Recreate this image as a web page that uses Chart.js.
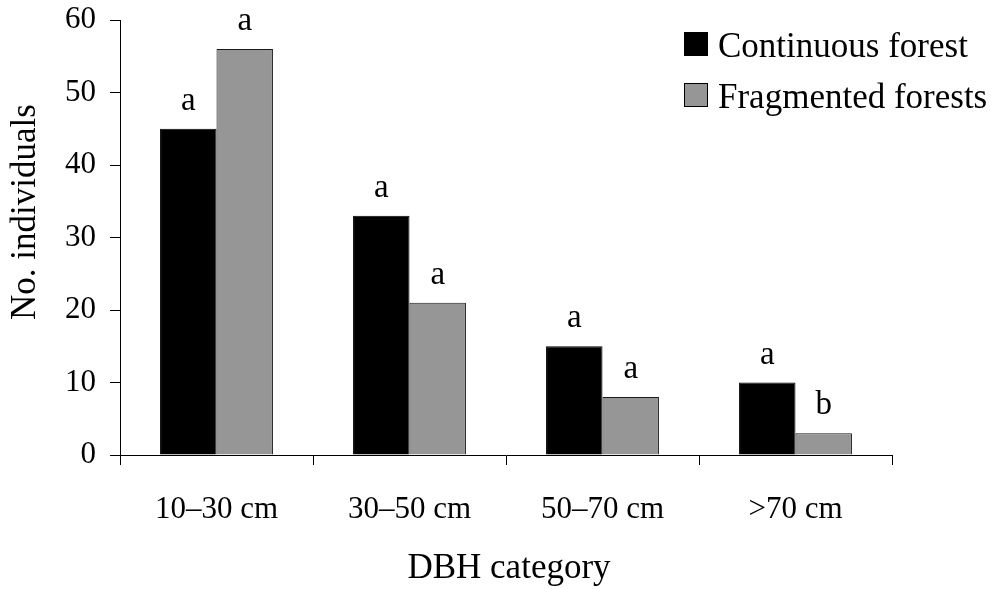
<!DOCTYPE html>
<html>
<head>
<meta charset="utf-8">
<script src="https://cdn.jsdelivr.net/npm/chart.js@4.4.1/dist/chart.umd.min.js"></script>
<style>
  html, body { margin: 0; padding: 0; background: #fff; }
  #wrap { width: 992px; height: 589px; }
</style>
</head>
<body>
<div id="wrap"><canvas id="c" width="992" height="589"></canvas></div>
<script>
// DBH size classes and tree counts per forest type
const categories = ['10\u201330 cm', '30\u201350 cm', '50\u201370 cm', '>70 cm'];
const continuousForest = [45, 33, 15, 10];
const fragmentedForests = [56, 21, 8, 3];
// Significance letters shown above each bar
const continuousLetters = ['a', 'a', 'a', 'a'];
const fragmentedLetters = ['a', 'a', 'a', 'b'];
const yTicks = [0, 10, 20, 30, 40, 50, 60];

const SERIF = '"Liberation Serif", "Times New Roman", Times, serif';

// Letters above the bars, taken from the bar elements laid out by Chart.js
const letterPlugin = {
  id: 'letters',
  afterDatasetsDraw(chart) {
    const ctx = chart.ctx;
    const sets = [continuousLetters, fragmentedLetters];
    ctx.save();
    ctx.font = '33px ' + SERIF;
    ctx.fillStyle = '#000';
    ctx.textAlign = 'center';
    ctx.textBaseline = 'alphabetic';
    chart.data.datasets.forEach((ds, di) => {
      const meta = chart.getDatasetMeta(di);
      meta.data.forEach((bar, i) => {
        ctx.fillText(sets[di][i], bar.x, bar.y - 19);
      });
    });
    ctx.restore();
  }
};

// Legend and axis titles in the serif style of the figure
const decorPlugin = {
  id: 'decor',
  afterDraw(chart) {
    const ctx = chart.ctx;
    ctx.save();
    // legend
    ctx.font = '35px ' + SERIF;
    ctx.textAlign = 'left';
    ctx.textBaseline = 'alphabetic';
    chart.data.datasets.forEach((ds, i) => {
      const top = 32 + i * 51;
      ctx.fillStyle = ds.backgroundColor;
      ctx.fillRect(684, top, 24, 24);
      ctx.strokeStyle = '#000';
      ctx.lineWidth = 1;
      ctx.strokeRect(684.5, top + 0.5, 23, 23);
      ctx.fillStyle = '#000';
      ctx.fillText(ds.label, 718, top + 25);
    });
    // y-axis title
    ctx.save();
    ctx.translate(35, 212);
    ctx.rotate(-Math.PI / 2);
    ctx.textAlign = 'center';
    ctx.fillText('No. individuals', 0, 0);
    ctx.restore();
    // x-axis title
    ctx.textAlign = 'center';
    ctx.fillText('DBH category', 509, 578);
    ctx.restore();
  }
};

new Chart(document.getElementById('c'), {
  type: 'bar',
  data: {
    labels: categories,
    datasets: [
      {
        label: 'Continuous forest',
        data: continuousForest,
        backgroundColor: '#000000',
        borderColor: '#000000',
        borderWidth: 1,
        categoryPercentage: 0.585,
        barPercentage: 1.0
      },
      {
        label: 'Fragmented forests',
        data: fragmentedForests,
        backgroundColor: '#969696',
        borderColor: '#1a1a1a',
        borderWidth: 1,
        categoryPercentage: 0.585,
        barPercentage: 1.0
      }
    ]
  },
  options: {
    responsive: false,
    animation: false,
    devicePixelRatio: 1,
    layout: { padding: { top: 20, right: 100, left: 0, bottom: 0 } },
    plugins: {
      legend: { display: false },
      tooltip: { enabled: false }
    },
    scales: {
      x: {
        offset: true,
        grid: {
          offset: true,
          drawOnChartArea: false,
          drawTicks: true,
          tickLength: 10,
          color: '#000'
        },
        border: { display: true, color: '#000', width: 1 },
        ticks: {
          color: '#000',
          font: { family: SERIF, size: 31 },
          padding: 26,
          maxRotation: 0
        },
        afterFit(scale) { scale.height = 134; }
      },
      y: {
        min: 0,
        max: 60,
        afterBuildTicks(scale) { scale.ticks = yTicks.map(v => ({ value: v })); },
        grid: {
          drawOnChartArea: false,
          drawTicks: true,
          tickLength: 10,
          color: '#000'
        },
        border: { display: true, color: '#000', width: 1 },
        ticks: {
          color: '#000',
          font: { family: SERIF, size: 31 },
          padding: 14
        },
        afterFit(scale) {
          scale.width = 120;
          scale.paddingTop = 0;
          scale.paddingBottom = 0;
        }
      }
    }
  },
  plugins: [letterPlugin, decorPlugin]
});
</script>
</body>
</html>
